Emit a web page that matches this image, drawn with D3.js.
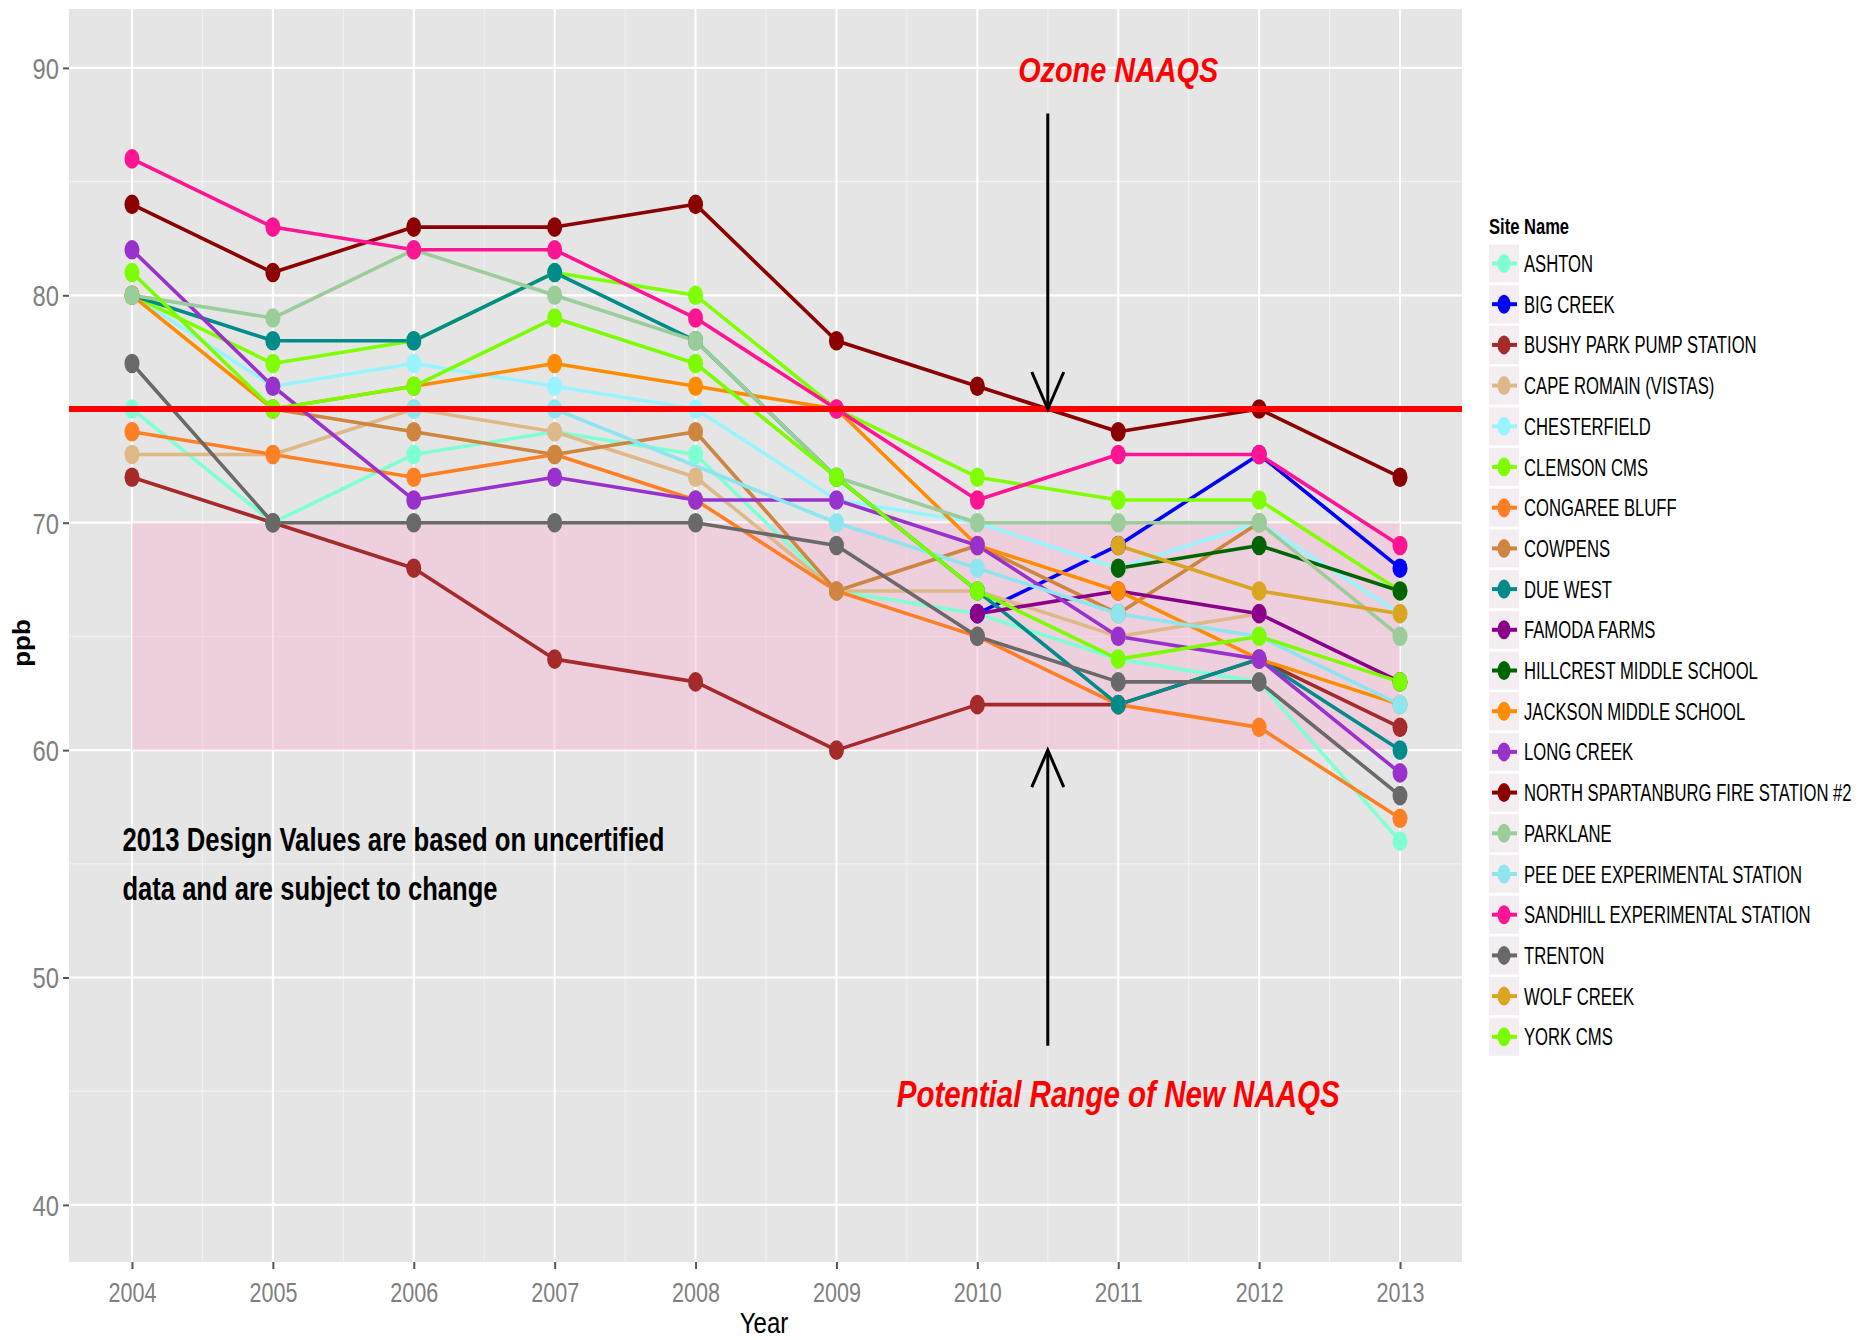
<!DOCTYPE html>
<html>
<head>
<meta charset="utf-8">
<script src="https://cdn.jsdelivr.net/npm/d3@7"></script>
<style>
  html, body { margin: 0; padding: 0; background: #ffffff; }
  svg { display: block; }
  text { font-family: "Liberation Sans", Arial, sans-serif; }
</style>
</head>
<body>
<svg id="chart" width="1864" height="1340"></svg>
<script>
// ---------------- DATA ----------------
const years = [2004, 2005, 2006, 2007, 2008, 2009, 2010, 2011, 2012, 2013];
const yTicks = [40, 50, 60, 70, 80, 90];

const siteNames = [
  "ASHTON", "BIG CREEK", "BUSHY PARK PUMP STATION", "CAPE ROMAIN (VISTAS)",
  "CHESTERFIELD", "CLEMSON CMS", "CONGAREE BLUFF", "COWPENS", "DUE WEST",
  "FAMODA FARMS", "HILLCREST MIDDLE SCHOOL", "JACKSON MIDDLE SCHOOL",
  "LONG CREEK", "NORTH SPARTANBURG FIRE STATION #2", "PARKLANE",
  "PEE DEE EXPERIMENTAL STATION", "SANDHILL EXPERIMENTAL STATION",
  "TRENTON", "WOLF CREEK", "YORK CMS"
];
const siteColors = [
  "#7FFFD4", "#0000FF", "#A52A2A", "#DEB887", "#98F5FF", "#7FFF00",
  "#FF7F24", "#CD853F", "#008B8B", "#8B008B", "#006400", "#FF8C00",
  "#9932CC", "#8B0000", "#9BCD9B", "#8EE5EE", "#FF1493", "#696969",
  "#DAA520", "#7CFC00"
];

// null = no value reported for that year (the line joins the remaining years)
const ashton       = [75, 70, 73, 74, 73, 67, 66, 64, 63, 56];
const bigCreek     = [null, null, null, null, null, null, 66, 69, 73, 68];
const bushyPark    = [72, 70, 68, 64, 63, 60, 62, 62, 64, 61];
const capeRomain   = [73, 73, 75, 74, 72, 67, 67, 65, 66, null];
const chesterfield = [80, 76, 77, 76, 75, 71, 70, 68, 70, 66];
const clemsonCMS   = [80, 77, 78, 81, 80, 75, 72, 71, 71, 67];
const congaree     = [74, 73, 72, 73, 71, 67, 65, 62, 61, 57];
const cowpens      = [null, 75, 74, 73, 74, 67, 69, 66, 70, null];
const dueWest      = [80, 78, 78, 81, 78, 72, 67, 62, 64, 60];
const famodaFarms  = [null, null, null, null, null, null, 66, 67, 66, 63];
const hillcrest    = [null, null, null, null, null, null, null, 68, 69, 67];
const jackson      = [80, 75, 76, 77, 76, 75, 69, 67, 64, 62];
const longCreek    = [82, 76, 71, 72, 71, 71, 69, 65, 64, 59];
const northSpart   = [84, 81, 83, 83, 84, 78, 76, 74, 75, 72];
const parklane     = [80, 79, 82, 80, 78, 72, 70, 70, 70, 65];
const peeDee       = [null, null, 75, 75, null, 70, 68, 66, 65, 62];
const sandhill     = [86, 83, 82, 82, 79, 75, 71, 73, 73, 69];
const trenton      = [77, 70, 70, 70, 70, 69, 65, 63, 63, 58];
const wolfCreek    = [null, null, null, null, null, null, null, 69, 67, 66];
const yorkCMS      = [81, 75, 76, 79, 77, 72, 67, 64, 65, 63];

const siteValues = [
  ashton, bigCreek, bushyPark, capeRomain, chesterfield, clemsonCMS,
  congaree, cowpens, dueWest, famodaFarms, hillcrest, jackson, longCreek,
  northSpart, parklane, peeDee, sandhill, trenton, wolfCreek, yorkCMS
];

const naaqs = 75;
const newRange = [60, 70];
const noteLines = ["2013 Design Values are based on uncertified", "data and are subject to change"];

// ---------------- LAYOUT ----------------
const svg = d3.select("#chart");
const panel = { left: 69, right: 1462, top: 9, bottom: 1262 };

const x = d3.scaleLinear().domain([2003.553, 2013.44]).range([panel.left, panel.right]);
const y = d3.scaleLinear().domain([37.49, 92.59]).range([panel.bottom, panel.top]);

const SX = 0.78; // horizontal condensing of the text (vertically stretched original)

// panel background
svg.append("rect")
  .attr("x", panel.left).attr("y", panel.top)
  .attr("width", panel.right - panel.left).attr("height", panel.bottom - panel.top)
  .attr("fill", "#E5E5E5");

const grid = svg.append("g");
const xMinor = d3.range(2004.5, 2013, 1);
const yMinor = [45, 55, 65, 75, 85];
grid.selectAll(".xm").data(xMinor).join("line")
  .attr("x1", d => x(d)).attr("x2", d => x(d))
  .attr("y1", panel.top).attr("y2", panel.bottom)
  .attr("stroke", "#F2F2F2").attr("stroke-width", 1);
grid.selectAll(".ym").data(yMinor).join("line")
  .attr("y1", d => y(d)).attr("y2", d => y(d))
  .attr("x1", panel.left).attr("x2", panel.right)
  .attr("stroke", "#F2F2F2").attr("stroke-width", 1);
grid.selectAll(".xM").data(years).join("line")
  .attr("x1", d => x(d)).attr("x2", d => x(d))
  .attr("y1", panel.top).attr("y2", panel.bottom)
  .attr("stroke", "#FFFFFF").attr("stroke-width", 2);
grid.selectAll(".yM").data(yTicks).join("line")
  .attr("y1", d => y(d)).attr("y2", d => y(d))
  .attr("x1", panel.left).attr("x2", panel.right)
  .attr("stroke", "#FFFFFF").attr("stroke-width", 2.2);

// pink potential-range rectangle
svg.append("rect")
  .attr("x", x(years[0])).attr("width", x(years[years.length - 1]) - x(years[0]))
  .attr("y", y(newRange[1])).attr("height", y(newRange[0]) - y(newRange[1]))
  .attr("fill", "#F9B4D2").attr("fill-opacity", 0.45);

// lines (missing years are skipped, the line joins the reported years)
const line = d3.line().x(d => x(d.year)).y(d => y(d.v));

const series = siteNames.map((name, i) => ({
  name, color: siteColors[i],
  pts: years.map((yr, j) => ({ year: yr, v: siteValues[i][j] })).filter(p => p.v != null)
}));

const linesG = svg.append("g");
series.forEach(s => {
  linesG.append("path")
    .attr("d", line(s.pts))
    .attr("fill", "none")
    .attr("stroke", s.color)
    .attr("stroke-width", 3.6)
    .attr("stroke-linejoin", "round");
});

const ptsG = svg.append("g");
series.forEach(s => {
  ptsG.selectAll(null).data(s.pts).join("ellipse")
    .attr("cx", d => x(d.year)).attr("cy", d => y(d.v))
    .attr("rx", 7.5).attr("ry", 9.8)
    .attr("fill", s.color);
});

// NAAQS line
svg.append("line")
  .attr("x1", panel.left).attr("x2", panel.right)
  .attr("y1", y(naaqs)).attr("y2", y(naaqs))
  .attr("stroke", "#FF0000").attr("stroke-width", 6);

// arrows
function arrow(xv, fromV, toV) {
  const g = svg.append("g").attr("stroke", "#000").attr("stroke-width", 3).attr("fill", "none");
  const x0 = x(xv), y0 = y(fromV), y1 = y(toV);
  const dir = y1 > y0 ? 1 : -1;
  g.append("line").attr("x1", x0).attr("x2", x0).attr("y1", y0).attr("y2", y1);
  g.append("polyline").attr("points",
    `${x0 - 16},${y1 - dir * 37} ${x0},${y1} ${x0 + 16},${y1 - dir * 37}`);
}
arrow(2010.5, 88, naaqs);
arrow(2010.5, 47, newRange[0]);

// helper for condensed text
function ctext(parent, tx, ty, str, opts) {
  const sx = opts.sx || SX;
  const t = parent.append("text")
    .attr("transform", `translate(${tx},${ty}) scale(${sx},1)`)
    .attr("font-size", opts.size)
    .attr("fill", opts.fill || "#000")
    .attr("text-anchor", opts.anchor || "start")
    .text(str);
  if (opts.weight) t.attr("font-weight", opts.weight);
  if (opts.style) t.attr("font-style", opts.style);
  if (opts.len) t.attr("textLength", opts.len / sx).attr("lengthAdjust", "spacingAndGlyphs");
  return t;
}

// annotations
ctext(svg, x(2011), 81.5, "Ozone NAAQS", { size: 36, fill: "#FF0000", weight: "bold", style: "italic", anchor: "middle", len: 200 });
ctext(svg, x(2011), 1107, "Potential Range of New NAAQS", { size: 37, fill: "#FF0000", weight: "bold", style: "italic", anchor: "middle", len: 443 });
ctext(svg, 122.5, 851, noteLines[0], { size: 33, weight: "bold", len: 542 });
ctext(svg, 122.5, 900, noteLines[1], { size: 33, weight: "bold", len: 375 });

// axes
const yAxis = d3.axisLeft(y).tickValues(yTicks).tickSize(6).tickPadding(3).tickFormat(d3.format("d"));
const yg = svg.append("g").attr("transform", `translate(${panel.left},0)`).call(yAxis);
yg.select(".domain").remove();
yg.selectAll(".tick line").attr("stroke", "#555").attr("stroke-width", 2);
yg.selectAll(".tick text")
  .attr("fill", "#7F7F7F").attr("font-size", 29)
  .attr("font-family", "Liberation Sans, Arial, sans-serif")
  .attr("x", -10 / 0.82).attr("dy", "0.36em")
  .attr("transform", "scale(0.82,1)");

const xAxis = d3.axisBottom(x).tickValues(years).tickSize(7).tickFormat(d3.format("d"));
const xg = svg.append("g").attr("transform", `translate(0,${panel.bottom})`).call(xAxis);
xg.select(".domain").remove();
xg.selectAll(".tick line").attr("stroke", "#555").attr("stroke-width", 2);
xg.selectAll(".tick text")
  .attr("fill", "#7F7F7F").attr("font-size", 28)
  .attr("font-family", "Liberation Sans, Arial, sans-serif")
  .attr("x", 0).attr("y", 40).attr("dy", 0)
  .attr("textLength", 48 / SX).attr("lengthAdjust", "spacingAndGlyphs")
  .attr("transform", `scale(${SX},1)`);

// axis titles
ctext(svg, 764, 1333, "Year", { size: 30, anchor: "middle", sx: 0.8 });
svg.append("text")
  .attr("transform", `translate(30,643) rotate(-90) scale(1,0.9)`)
  .attr("text-anchor", "middle")
  .attr("font-size", 26).attr("font-weight", "bold")
  .attr("font-family", "Liberation Serif, Times New Roman, serif")
  .text("ppb");

// legend
const lg = svg.append("g");
ctext(lg, 1489, 234, "Site Name", { size: 22.4, weight: "bold", sx: 0.74 });
const rowH = 40.7, row0 = 263.5;
series.forEach((s, i) => {
  const cy = row0 + i * rowH;
  lg.append("rect").attr("x", 1489).attr("y", cy - 19).attr("width", 30).attr("height", 38)
    .attr("fill", "#F4EEF2");
  lg.append("line").attr("x1", 1492).attr("x2", 1517).attr("y1", cy).attr("y2", cy)
    .attr("stroke", s.color).attr("stroke-width", 4);
  lg.append("ellipse").attr("cx", 1504).attr("cy", cy).attr("rx", 6.5).attr("ry", 9.5)
    .attr("fill", s.color);
  ctext(lg, 1524, cy + 8.5, s.name, { size: 23.3, sx: 0.715 });
});
</script>
</body>
</html>
